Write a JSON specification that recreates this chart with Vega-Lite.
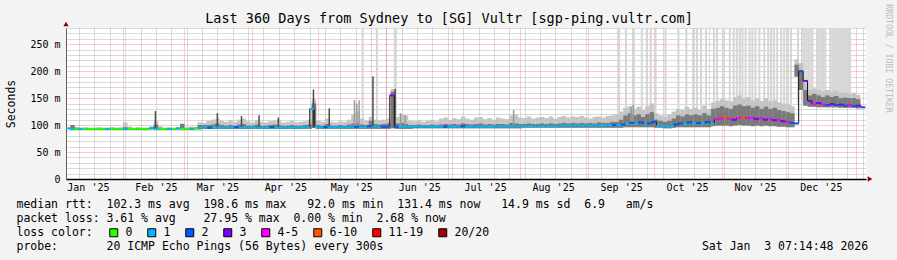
{
"$schema":"https://vega.github.io/schema/vega-lite/v6.json",
"width":800,"height":151,
"autosize":{"type":"none"},
"padding":{"left":66,"top":28,"right":31,"bottom":81},
"background":"#f3f3f3",
"config":{
 "view":{"fill":"#ffffff","stroke":null},
 "font":"DejaVu Sans Mono",
 "axis":{"labelFont":"DejaVu Sans Mono","labelFontSize":10,"labelColor":"#000000","titleFont":"DejaVu Sans Mono","titleFontWeight":"normal","titleColor":"#000000","tickSize":0,"ticks":false},
 "legend":{"padding":0}
},
"title":{"text":"Last 360 Days from Sydney to [SG] Vultr [sgp-ping.vultr.com]","font":"DejaVu Sans Mono","fontSize":13.5,"fontWeight":"normal","color":"#000000","anchor":"middle","frame":"group","dx":-17,"dy":37,"offset":4,"baseline":"alphabetic"},
"datasets":{
"main":[
{"d":"2025-01-09","m":94,"lo":92,"h2":100,"hi":100,"l":"1"},
{"d":"2025-01-11","m":93,"lo":92,"h2":95,"hi":96,"l":"1"},
{"d":"2025-01-13","m":93,"lo":92,"h2":94,"hi":95,"l":"0"},
{"d":"2025-01-15","m":93,"lo":92,"h2":94,"hi":96,"l":"1"},
{"d":"2025-01-17","m":93,"lo":92,"h2":94,"hi":95,"l":"0"},
{"d":"2025-01-19","m":93,"lo":92,"h2":94,"hi":95,"l":"0"},
{"d":"2025-01-21","m":93,"lo":92,"h2":94,"hi":96,"l":"0"},
{"d":"2025-01-23","m":93,"lo":92,"h2":94,"hi":95,"l":"0"},
{"d":"2025-01-25","m":93,"lo":92,"h2":94,"hi":95,"l":"0"},
{"d":"2025-01-27","m":93,"lo":92,"h2":95,"hi":96,"l":"1"},
{"d":"2025-01-29","m":93,"lo":92,"h2":94,"hi":95,"l":"0"},
{"d":"2025-01-31","m":93,"lo":92,"h2":94,"hi":96,"l":"0"},
{"d":"2025-02-02","m":93,"lo":92,"h2":96,"hi":105,"l":"0"},
{"d":"2025-02-04","m":93,"lo":92,"h2":95,"hi":97,"l":"1"},
{"d":"2025-02-06","m":93,"lo":92,"h2":94,"hi":95,"l":"0"},
{"d":"2025-02-08","m":93,"lo":92,"h2":94,"hi":96,"l":"0"},
{"d":"2025-02-10","m":93,"lo":92,"h2":94,"hi":95,"l":"0"},
{"d":"2025-02-12","m":93,"lo":92,"h2":94,"hi":95,"l":"0"},
{"d":"2025-02-14","m":93,"lo":92,"h2":94,"hi":97,"l":"0"},
{"d":"2025-02-16","m":95,"lo":92,"h2":101,"hi":108,"l":"1"},
{"d":"2025-02-18","m":93,"lo":92,"h2":95,"hi":98,"l":"1"},
{"d":"2025-02-20","m":93,"lo":92,"h2":94,"hi":95,"l":"0"},
{"d":"2025-02-22","m":93,"lo":92,"h2":94,"hi":96,"l":"0"},
{"d":"2025-02-24","m":93,"lo":92,"h2":94,"hi":95,"l":"1"},
{"d":"2025-02-26","m":93,"lo":92,"h2":94,"hi":95,"l":"0"},
{"d":"2025-02-28","m":94,"lo":92,"h2":102,"hi":103,"l":"1"},
{"d":"2025-03-02","m":93,"lo":92,"h2":94,"hi":96,"l":"0"},
{"d":"2025-03-04","m":93,"lo":92,"h2":95,"hi":97,"l":"0"},
{"d":"2025-03-06","m":93,"lo":92,"h2":94,"hi":96,"l":"1"},
{"d":"2025-03-08","m":94,"lo":92,"h2":100,"hi":105,"l":"0"},
{"d":"2025-03-10","m":95,"lo":93,"h2":100,"hi":104,"l":"1"},
{"d":"2025-03-12","m":95,"lo":93,"h2":100,"hi":108,"l":"1"},
{"d":"2025-03-14","m":95,"lo":93,"h2":101,"hi":110,"l":"2"},
{"d":"2025-03-16","m":95,"lo":93,"h2":103,"hi":112,"l":"1"},
{"d":"2025-03-18","m":95,"lo":93,"h2":100,"hi":108,"l":"1"},
{"d":"2025-03-20","m":95,"lo":93,"h2":99,"hi":106,"l":"1"},
{"d":"2025-03-22","m":95,"lo":93,"h2":100,"hi":109,"l":"1"},
{"d":"2025-03-24","m":95,"lo":93,"h2":99,"hi":106,"l":"1"},
{"d":"2025-03-26","m":96,"lo":93,"h2":101,"hi":110,"l":"2"},
{"d":"2025-03-28","m":95,"lo":93,"h2":102,"hi":112,"l":"1"},
{"d":"2025-03-30","m":95,"lo":93,"h2":99,"hi":107,"l":"1"},
{"d":"2025-04-01","m":95,"lo":93,"h2":99,"hi":105,"l":"1"},
{"d":"2025-04-03","m":96,"lo":93,"h2":101,"hi":109,"l":"1"},
{"d":"2025-04-05","m":95,"lo":93,"h2":99,"hi":106,"l":"1"},
{"d":"2025-04-07","m":95,"lo":93,"h2":99,"hi":105,"l":"1"},
{"d":"2025-04-09","m":95,"lo":93,"h2":100,"hi":107,"l":"1"},
{"d":"2025-04-11","m":96,"lo":93,"h2":101,"hi":108,"l":"2"},
{"d":"2025-04-13","m":95,"lo":93,"h2":100,"hi":110,"l":"1"},
{"d":"2025-04-15","m":95,"lo":93,"h2":99,"hi":105,"l":"1"},
{"d":"2025-04-17","m":95,"lo":93,"h2":99,"hi":106,"l":"1"},
{"d":"2025-04-19","m":96,"lo":93,"h2":100,"hi":108,"l":"1"},
{"d":"2025-04-21","m":95,"lo":93,"h2":99,"hi":105,"l":"1"},
{"d":"2025-04-23","m":95,"lo":93,"h2":99,"hi":106,"l":"1"},
{"d":"2025-04-25","m":96,"lo":93,"h2":100,"hi":107,"l":"1"},
{"d":"2025-04-27","m":96,"lo":93,"h2":101,"hi":110,"l":"1"},
{"d":"2025-04-29","m":130,"lo":95,"h2":140,"hi":148,"l":"1"},
{"d":"2025-05-01","m":96,"lo":93,"h2":100,"hi":108,"l":"1"},
{"d":"2025-05-03","m":96,"lo":93,"h2":99,"hi":106,"l":"1"},
{"d":"2025-05-05","m":96,"lo":93,"h2":102,"hi":112,"l":"2"},
{"d":"2025-05-07","m":96,"lo":93,"h2":99,"hi":106,"l":"1"},
{"d":"2025-05-09","m":96,"lo":93,"h2":99,"hi":105,"l":"1"},
{"d":"2025-05-11","m":96,"lo":93,"h2":100,"hi":107,"l":"1"},
{"d":"2025-05-13","m":96,"lo":93,"h2":99,"hi":106,"l":"1"},
{"d":"2025-05-15","m":96,"lo":93,"h2":101,"hi":110,"l":"1"},
{"d":"2025-05-17","m":97,"lo":93,"h2":103,"hi":120,"l":"1"},
{"d":"2025-05-19","m":97,"lo":93,"h2":104,"hi":125,"l":"2"},
{"d":"2025-05-21","m":96,"lo":93,"h2":101,"hi":112,"l":"1"},
{"d":"2025-05-23","m":96,"lo":93,"h2":100,"hi":108,"l":"1"},
{"d":"2025-05-25","m":98,"lo":93,"h2":108,"hi":115,"l":"2"},
{"d":"2025-05-27","m":97,"lo":93,"h2":102,"hi":110,"l":"1"},
{"d":"2025-05-29","m":96,"lo":93,"h2":101,"hi":109,"l":"1"},
{"d":"2025-05-31","m":97,"lo":93,"h2":102,"hi":110,"l":"2"},
{"d":"2025-06-02","m":97,"lo":93,"h2":103,"hi":112,"l":"2"},
{"d":"2025-06-04","m":155,"lo":94,"h2":162,"hi":167,"l":"3"},
{"d":"2025-06-06","m":97,"lo":93,"h2":103,"hi":115,"l":"2"},
{"d":"2025-06-08","m":97,"lo":93,"h2":104,"hi":120,"l":"1"},
{"d":"2025-06-10","m":97,"lo":93,"h2":102,"hi":118,"l":"1"},
{"d":"2025-06-12","m":97,"lo":93,"h2":100,"hi":108,"l":"1"},
{"d":"2025-06-14","m":97,"lo":94,"h2":100,"hi":107,"l":"1"},
{"d":"2025-06-16","m":97,"lo":94,"h2":101,"hi":109,"l":"1"},
{"d":"2025-06-18","m":97,"lo":94,"h2":100,"hi":106,"l":"1"},
{"d":"2025-06-20","m":97,"lo":94,"h2":100,"hi":108,"l":"1"},
{"d":"2025-06-22","m":97,"lo":94,"h2":101,"hi":110,"l":"1"},
{"d":"2025-06-24","m":97,"lo":94,"h2":100,"hi":107,"l":"1"},
{"d":"2025-06-26","m":97,"lo":94,"h2":101,"hi":112,"l":"1"},
{"d":"2025-06-28","m":97,"lo":94,"h2":102,"hi":114,"l":"2"},
{"d":"2025-06-30","m":97,"lo":94,"h2":101,"hi":110,"l":"1"},
{"d":"2025-07-02","m":97,"lo":94,"h2":102,"hi":113,"l":"1"},
{"d":"2025-07-04","m":97,"lo":94,"h2":101,"hi":111,"l":"1"},
{"d":"2025-07-06","m":98,"lo":94,"h2":103,"hi":116,"l":"2"},
{"d":"2025-07-08","m":97,"lo":94,"h2":102,"hi":112,"l":"1"},
{"d":"2025-07-10","m":97,"lo":94,"h2":101,"hi":110,"l":"1"},
{"d":"2025-07-12","m":97,"lo":94,"h2":102,"hi":114,"l":"1"},
{"d":"2025-07-14","m":98,"lo":94,"h2":103,"hi":115,"l":"1"},
{"d":"2025-07-16","m":97,"lo":94,"h2":101,"hi":111,"l":"1"},
{"d":"2025-07-18","m":97,"lo":94,"h2":102,"hi":113,"l":"1"},
{"d":"2025-07-20","m":97,"lo":94,"h2":101,"hi":110,"l":"1"},
{"d":"2025-07-22","m":98,"lo":94,"h2":102,"hi":114,"l":"1"},
{"d":"2025-07-24","m":97,"lo":94,"h2":102,"hi":112,"l":"1"},
{"d":"2025-07-26","m":97,"lo":94,"h2":101,"hi":111,"l":"1"},
{"d":"2025-07-28","m":98,"lo":94,"h2":104,"hi":118,"l":"1"},
{"d":"2025-07-30","m":98,"lo":94,"h2":103,"hi":120,"l":"1"},
{"d":"2025-08-01","m":98,"lo":94,"h2":102,"hi":114,"l":"1"},
{"d":"2025-08-03","m":98,"lo":95,"h2":102,"hi":113,"l":"1"},
{"d":"2025-08-05","m":98,"lo":95,"h2":103,"hi":116,"l":"1"},
{"d":"2025-08-07","m":98,"lo":95,"h2":102,"hi":112,"l":"1"},
{"d":"2025-08-09","m":98,"lo":95,"h2":102,"hi":114,"l":"1"},
{"d":"2025-08-11","m":98,"lo":95,"h2":103,"hi":115,"l":"1"},
{"d":"2025-08-13","m":98,"lo":95,"h2":102,"hi":113,"l":"1"},
{"d":"2025-08-15","m":98,"lo":95,"h2":103,"hi":116,"l":"1"},
{"d":"2025-08-17","m":98,"lo":95,"h2":102,"hi":112,"l":"1"},
{"d":"2025-08-19","m":99,"lo":95,"h2":103,"hi":115,"l":"1"},
{"d":"2025-08-21","m":99,"lo":95,"h2":104,"hi":117,"l":"1"},
{"d":"2025-08-23","m":99,"lo":95,"h2":103,"hi":114,"l":"1"},
{"d":"2025-08-25","m":99,"lo":95,"h2":104,"hi":116,"l":"1"},
{"d":"2025-08-27","m":99,"lo":95,"h2":103,"hi":115,"l":"1"},
{"d":"2025-08-29","m":99,"lo":95,"h2":104,"hi":117,"l":"1"},
{"d":"2025-08-31","m":99,"lo":95,"h2":103,"hi":114,"l":"1"},
{"d":"2025-09-02","m":99,"lo":95,"h2":104,"hi":112,"l":"1"},
{"d":"2025-09-04","m":99,"lo":95,"h2":103,"hi":115,"l":"1"},
{"d":"2025-09-06","m":99,"lo":95,"h2":105,"hi":116,"l":"1"},
{"d":"2025-09-08","m":100,"lo":95,"h2":104,"hi":114,"l":"1"},
{"d":"2025-09-10","m":99,"lo":95,"h2":104,"hi":117,"l":"1"},
{"d":"2025-09-12","m":100,"lo":95,"h2":106,"hi":118,"l":"2"},
{"d":"2025-09-14","m":100,"lo":95,"h2":106,"hi":120,"l":"1"},
{"d":"2025-09-16","m":101,"lo":95,"h2":110,"hi":125,"l":"2"},
{"d":"2025-09-18","m":102,"lo":96,"h2":118,"hi":132,"l":"1"},
{"d":"2025-09-20","m":104,"lo":96,"h2":122,"hi":135,"l":"2"},
{"d":"2025-09-22","m":103,"lo":96,"h2":118,"hi":130,"l":"1"},
{"d":"2025-09-24","m":105,"lo":96,"h2":120,"hi":134,"l":"2"},
{"d":"2025-09-26","m":101,"lo":96,"h2":115,"hi":128,"l":"1"},
{"d":"2025-09-28","m":103,"lo":96,"h2":120,"hi":135,"l":"2"},
{"d":"2025-09-30","m":106,"lo":96,"h2":124,"hi":140,"l":"2"},
{"d":"2025-10-02","m":99,"lo":95,"h2":110,"hi":122,"l":"1"},
{"d":"2025-10-04","m":98,"lo":95,"h2":108,"hi":118,"l":"1"},
{"d":"2025-10-06","m":97,"lo":94,"h2":106,"hi":116,"l":"1"},
{"d":"2025-10-08","m":98,"lo":94,"h2":108,"hi":120,"l":"1"},
{"d":"2025-10-10","m":101,"lo":95,"h2":112,"hi":125,"l":"2"},
{"d":"2025-10-12","m":103,"lo":96,"h2":118,"hi":130,"l":"2"},
{"d":"2025-10-14","m":102,"lo":96,"h2":116,"hi":128,"l":"1"},
{"d":"2025-10-16","m":105,"lo":96,"h2":120,"hi":134,"l":"2"},
{"d":"2025-10-18","m":103,"lo":96,"h2":118,"hi":130,"l":"1"},
{"d":"2025-10-20","m":104,"lo":96,"h2":120,"hi":132,"l":"2"},
{"d":"2025-10-22","m":102,"lo":96,"h2":118,"hi":128,"l":"1"},
{"d":"2025-10-24","m":106,"lo":96,"h2":122,"hi":136,"l":"2"},
{"d":"2025-10-26","m":103,"lo":96,"h2":118,"hi":130,"l":"1"},
{"d":"2025-10-28","m":111,"lo":98,"h2":130,"hi":142,"l":"4-5"},
{"d":"2025-10-30","m":112,"lo":99,"h2":132,"hi":145,"l":"4-5"},
{"d":"2025-11-01","m":114,"lo":99,"h2":135,"hi":148,"l":"6-10"},
{"d":"2025-11-03","m":112,"lo":99,"h2":132,"hi":146,"l":"4-5"},
{"d":"2025-11-05","m":110,"lo":98,"h2":130,"hi":144,"l":"3"},
{"d":"2025-11-07","m":113,"lo":99,"h2":136,"hi":152,"l":"4-5"},
{"d":"2025-11-09","m":115,"lo":100,"h2":138,"hi":155,"l":"6-10"},
{"d":"2025-11-11","m":113,"lo":99,"h2":135,"hi":150,"l":"4-5"},
{"d":"2025-11-13","m":114,"lo":99,"h2":136,"hi":152,"l":"4-5"},
{"d":"2025-11-15","m":111,"lo":98,"h2":132,"hi":146,"l":"3"},
{"d":"2025-11-17","m":113,"lo":99,"h2":135,"hi":150,"l":"4-5"},
{"d":"2025-11-19","m":110,"lo":98,"h2":130,"hi":145,"l":"3"},
{"d":"2025-11-21","m":112,"lo":99,"h2":134,"hi":150,"l":"4-5"},
{"d":"2025-11-23","m":109,"lo":98,"h2":130,"hi":145,"l":"3"},
{"d":"2025-11-25","m":110,"lo":98,"h2":132,"hi":146,"l":"4-5"},
{"d":"2025-11-27","m":107,"lo":97,"h2":128,"hi":142,"l":"3"},
{"d":"2025-11-29","m":106,"lo":97,"h2":126,"hi":140,"l":"4-5"},
{"d":"2025-12-01","m":104,"lo":96,"h2":124,"hi":138,"l":"2"},
{"d":"2025-12-03","m":103,"lo":96,"h2":122,"hi":135,"l":"2"},
{"d":"2025-12-05","m":200,"lo":190,"h2":212,"hi":222,"l":"2"},
{"d":"2025-12-07","m":182,"lo":165,"h2":200,"hi":215,"l":"3"},
{"d":"2025-12-09","m":145,"lo":136,"h2":165,"hi":178,"l":"3"},
{"d":"2025-12-11","m":139,"lo":134,"h2":155,"hi":165,"l":"4-5"},
{"d":"2025-12-13","m":141,"lo":134,"h2":158,"hi":168,"l":"3"},
{"d":"2025-12-15","m":138,"lo":133,"h2":155,"hi":165,"l":"4-5"},
{"d":"2025-12-17","m":137,"lo":133,"h2":152,"hi":162,"l":"2"},
{"d":"2025-12-19","m":139,"lo":133,"h2":155,"hi":165,"l":"3"},
{"d":"2025-12-21","m":137,"lo":133,"h2":152,"hi":162,"l":"2"},
{"d":"2025-12-23","m":138,"lo":133,"h2":154,"hi":164,"l":"3"},
{"d":"2025-12-25","m":136,"lo":132,"h2":150,"hi":160,"l":"2"},
{"d":"2025-12-27","m":137,"lo":132,"h2":151,"hi":160,"l":"4-5"},
{"d":"2025-12-29","m":135,"lo":132,"h2":150,"hi":158,"l":"2"},
{"d":"2025-12-31","m":136,"lo":132,"h2":150,"hi":160,"l":"3"},
{"d":"2026-01-02","m":133,"lo":131,"h2":148,"hi":156,"l":"2"}
],
"spk":[
{"d":"2025-05-21T05:00Z","b":97,"t":280,"k":"light"},
{"d":"2025-05-27T17:00Z","b":97,"t":280,"k":"light"},
{"d":"2025-06-04T20:00Z","b":97,"t":280,"k":"light"},
{"d":"2025-06-05T08:00Z","b":97,"t":280,"k":"light"},
{"d":"2025-09-15T02:00Z","b":100,"t":280,"k":"light"},
{"d":"2025-09-18T05:00Z","b":100,"t":280,"k":"light"},
{"d":"2025-09-21T19:00Z","b":100,"t":280,"k":"light"},
{"d":"2025-09-25T10:00Z","b":100,"t":280,"k":"light"},
{"d":"2025-09-27T17:00Z","b":100,"t":280,"k":"light"},
{"d":"2025-09-29T12:00Z","b":100,"t":280,"k":"light"},
{"d":"2025-10-01T17:00Z","b":100,"t":280,"k":"light"},
{"d":"2025-10-06T05:00Z","b":100,"t":280,"k":"light"},
{"d":"2025-10-12T02:00Z","b":100,"t":280,"k":"light"},
{"d":"2025-10-15T17:00Z","b":100,"t":280,"k":"light"},
{"d":"2025-10-18T19:00Z","b":100,"t":280,"k":"light"},
{"d":"2025-10-20T14:00Z","b":100,"t":280,"k":"light"},
{"d":"2025-10-22T10:00Z","b":100,"t":280,"k":"light"},
{"d":"2025-10-24T17:00Z","b":100,"t":280,"k":"light"},
{"d":"2025-10-28T07:00Z","b":100,"t":280,"k":"light"},
{"d":"2025-10-29T17:00Z","b":100,"t":280,"k":"light"},
{"d":"2025-11-01T07:00Z","b":100,"t":280,"k":"light"},
{"d":"2025-11-04T12:00Z","b":100,"t":280,"k":"light"},
{"d":"2025-11-06T07:00Z","b":100,"t":280,"k":"light"},
{"d":"2025-11-07T17:00Z","b":100,"t":280,"k":"light"},
{"d":"2025-11-09T00:00Z","b":100,"t":280,"k":"light"},
{"d":"2025-11-10T07:00Z","b":100,"t":280,"k":"light"},
{"d":"2025-11-11T17:00Z","b":100,"t":280,"k":"light"},
{"d":"2025-11-13T12:00Z","b":100,"t":280,"k":"light"},
{"d":"2025-11-14T19:00Z","b":100,"t":280,"k":"light"},
{"d":"2025-11-16T05:00Z","b":100,"t":280,"k":"light"},
{"d":"2025-11-18T00:00Z","b":100,"t":280,"k":"light"},
{"d":"2025-11-20T05:00Z","b":100,"t":280,"k":"light"},
{"d":"2025-11-22T00:00Z","b":100,"t":280,"k":"light"},
{"d":"2025-11-23T10:00Z","b":100,"t":280,"k":"light"},
{"d":"2025-11-24T17:00Z","b":100,"t":280,"k":"light"},
{"d":"2025-11-26T02:00Z","b":100,"t":280,"k":"light"},
{"d":"2025-11-27T22:00Z","b":100,"t":280,"k":"light"},
{"d":"2025-11-29T07:00Z","b":100,"t":280,"k":"light"},
{"d":"2025-12-01T02:00Z","b":100,"t":280,"k":"light"},
{"d":"2025-12-02T10:00Z","b":100,"t":280,"k":"light"},
{"d":"2025-12-05T14:00Z","b":140,"t":280,"k":"light"},
{"d":"2025-12-07T17:00Z","b":140,"t":280,"k":"light"},
{"d":"2025-12-08T14:00Z","b":140,"t":280,"k":"light"},
{"d":"2025-12-09T12:00Z","b":140,"t":280,"k":"light"},
{"d":"2025-12-10T10:00Z","b":140,"t":280,"k":"light"},
{"d":"2025-12-11T07:00Z","b":140,"t":280,"k":"light"},
{"d":"2025-12-12T05:00Z","b":140,"t":280,"k":"light"},
{"d":"2025-12-14T10:00Z","b":140,"t":280,"k":"light"},
{"d":"2025-12-15T07:00Z","b":140,"t":280,"k":"light"},
{"d":"2025-12-16T05:00Z","b":140,"t":280,"k":"light"},
{"d":"2025-12-17T02:00Z","b":140,"t":280,"k":"light"},
{"d":"2025-12-18T00:00Z","b":140,"t":280,"k":"light"},
{"d":"2025-12-20T07:00Z","b":140,"t":280,"k":"light"},
{"d":"2025-12-21T05:00Z","b":140,"t":280,"k":"light"},
{"d":"2025-12-22T02:00Z","b":140,"t":280,"k":"light"},
{"d":"2025-12-23T00:00Z","b":140,"t":280,"k":"light"},
{"d":"2025-12-23T22:00Z","b":140,"t":280,"k":"light"},
{"d":"2025-12-24T19:00Z","b":140,"t":280,"k":"light"},
{"d":"2025-12-25T17:00Z","b":140,"t":280,"k":"light"},
{"d":"2025-12-26T14:00Z","b":140,"t":280,"k":"light"},
{"d":"2025-12-27T12:00Z","b":140,"t":280,"k":"light"},
{"d":"2025-12-28T10:00Z","b":140,"t":280,"k":"light"},
{"d":"2025-12-29T07:00Z","b":140,"t":280,"k":"light"},
{"d":"2025-05-17T12:00Z","b":95,"t":146,"k":"mid"},
{"d":"2025-05-18T12:00Z","b":95,"t":140,"k":"mid"},
{"d":"2025-05-19T14:00Z","b":95,"t":146,"k":"mid"},
{"d":"2025-06-07T12:00Z","b":95,"t":122,"k":"mid"},
{"d":"2025-06-09T12:00Z","b":95,"t":118,"k":"mid"},
{"d":"2025-07-29T00:00Z","b":97,"t":128,"k":"mid"},
{"d":"2025-09-20T12:00Z","b":100,"t":134,"k":"mid"},
{"d":"2025-09-21T12:00Z","b":100,"t":137,"k":"mid"},
{"d":"2025-02-15T19:00Z","b":93,"t":126,"k":"dark"},
{"d":"2025-03-16T00:00Z","b":95,"t":122,"k":"dark"},
{"d":"2025-03-27T00:00Z","b":95,"t":117,"k":"dark"},
{"d":"2025-04-04T00:00Z","b":95,"t":118,"k":"dark"},
{"d":"2025-04-12T19:00Z","b":95,"t":114,"k":"dark"},
{"d":"2025-04-28T19:00Z","b":95,"t":166,"k":"dark"},
{"d":"2025-05-06T00:00Z","b":95,"t":131,"k":"dark"},
{"d":"2025-05-25T22:00Z","b":95,"t":190,"k":"dark"},
{"d":"2025-06-05T00:00Z","b":95,"t":167,"k":"dark"}
],
"arrows":[
{"d":"2026-01-03T07:14:48Z","v":0,"a":"x"},
{"d":"2025-01-08T07:14:48Z","v":280,"a":"y"}
]
},
"layer":[
{"data":{"name":"spk"},"transform":[{"filter":"datum.k == 'light'"}],
 "mark":{"type":"bar","size":2,"color":"#d6d6d6","clip":true},
 "encoding":{
  "x":{"field":"d","type":"temporal","scale":{"type":"utc","nice":false,"domain":[{"year":2025,"month":1,"date":8,"hours":7,"minutes":14,"seconds":48,"utc":true},{"year":2026,"month":1,"date":3,"hours":7,"minutes":14,"seconds":48,"utc":true}]},
   "axis":{"orient":"bottom","grid":true,"gridColor":"#b4b4b4","gridDash":[1,1],"tickCount":{"interval":"week","step":1},"labels":false,"ticks":false,"domain":false,"title":null}},
  "y":{"field":"b","type":"quantitative","scale":{"domain":[0,280],"nice":false,"zero":false},
   "axis":{"orient":"left","grid":true,"gridColor":"#b4b4b4","gridDash":[1,1],"values":[10,20,30,40,60,70,80,90,110,120,130,140,160,170,180,190,210,220,230,240,260,270,280],"labels":false,"ticks":false,"domain":false,"title":null}},
  "y2":{"field":"t"}}},
{"data":{"name":"main"},
 "mark":{"type":"bar","size":4.5,"color":"#c4c4c4","clip":true},
 "encoding":{
  "x":{"field":"d","type":"temporal","scale":{"type":"utc","nice":false,"domain":[{"year":2025,"month":1,"date":8,"hours":7,"minutes":14,"seconds":48,"utc":true},{"year":2026,"month":1,"date":3,"hours":7,"minutes":14,"seconds":48,"utc":true}]},
   "axis":{"orient":"bottom","grid":true,"gridColor":"#ff0000","gridOpacity":0.4,"gridDash":[1,1],"tickCount":{"interval":"month","step":1},"labels":false,"ticks":false,"domain":false,"title":null}},
  "y":{"field":"lo","type":"quantitative","scale":{"domain":[0,280],"nice":false,"zero":false},
   "axis":{"orient":"left","grid":true,"gridColor":"#ff0000","gridOpacity":0.4,"gridDash":[1,1],"values":[0,50,100,150,200,250],"labelExpr":"datum.value == 0 ? '0' : datum.value + ' m'","labelPadding":6,"domain":true,"domainColor":"#606060","title":"Seconds","titleX":-52,"titleY":75.5,"titleAngle":270,"titleAlign":"center","titleBaseline":"alphabetic","titleFontSize":11.5}},
  "y2":{"field":"hi"}}},
{"data":{"name":"main"},
 "mark":{"type":"bar","size":4.5,"color":"#7a7a7a","clip":true},
 "encoding":{
  "x":{"field":"d","type":"temporal","scale":{"type":"utc","nice":false,"domain":[{"year":2025,"month":1,"date":8,"hours":7,"minutes":14,"seconds":48,"utc":true},{"year":2026,"month":1,"date":3,"hours":7,"minutes":14,"seconds":48,"utc":true}]},
   "axis":{"orient":"bottom","values":[{"year":2025,"month":1,"date":16,"utc":true},{"year":2025,"month":2,"date":16,"utc":true},{"year":2025,"month":3,"date":16,"utc":true},{"year":2025,"month":4,"date":16,"utc":true},{"year":2025,"month":5,"date":16,"utc":true},{"year":2025,"month":6,"date":16,"utc":true},{"year":2025,"month":7,"date":16,"utc":true},{"year":2025,"month":8,"date":16,"utc":true},{"year":2025,"month":9,"date":16,"utc":true},{"year":2025,"month":10,"date":16,"utc":true},{"year":2025,"month":11,"date":16,"utc":true},{"year":2025,"month":12,"date":16,"utc":true}],
    "format":"%b '%y","labelPadding":3,"grid":false,"domain":true,"domainColor":"#000000","domainWidth":1.5,"labelOverlap":false,"labelFlush":false,"labelBound":false,
    "title":["median rtt:\u00a0\u00a0102.3 ms avg\u00a0\u00a0198.6 ms max\u00a0\u00a0\u00a092.0 ms min\u00a0\u00a0131.4 ms now\u00a0\u00a0\u00a014.9 ms sd\u00a0\u00a06.9\u00a0\u00a0\u00a0am/s","packet loss: 3.61 % avg\u00a0\u00a0\u00a0\u00a027.95 % max\u00a0\u00a00.00 % min\u00a0\u00a02.68 % now","loss color:","probe:\u00a0\u00a0\u00a0\u00a0\u00a0\u00a0\u00a020 ICMP Echo Pings (56 Bytes) every 300s\u00a0\u00a0\u00a0\u00a0\u00a0\u00a0\u00a0\u00a0\u00a0\u00a0\u00a0\u00a0\u00a0\u00a0\u00a0\u00a0\u00a0\u00a0\u00a0\u00a0\u00a0\u00a0\u00a0\u00a0\u00a0\u00a0\u00a0\u00a0\u00a0\u00a0\u00a0\u00a0\u00a0\u00a0\u00a0\u00a0\u00a0\u00a0\u00a0\u00a0\u00a0\u00a0\u00a0\u00a0\u00a0\u00a0Sat Jan\u00a0\u00a03 07:14:48 2026"],
    "titleX":-50,"titleY":28.7,"titleAlign":"left","titleAnchor":"start","titleBaseline":"alphabetic","titleAngle":0,"titleLineHeight":14,"titleFontSize":11.5}},
  "y":{"field":"lo","type":"quantitative","scale":{"domain":[0,280],"nice":false,"zero":false},
   "axis":{"orient":"right","labels":false,"ticks":false,"domain":false,"grid":false,"title":"RRDTOOL / TOBI OETIKER","titleAngle":90,"titleX":19.5,"titleY":30,"titleAlign":"center","titleBaseline":"alphabetic","titleColor":"#bdbdbd","titleFontSize":8.2}},
  "y2":{"field":"h2"}}},
{"data":{"name":"spk"},"transform":[{"filter":"datum.k == 'mid'"}],
 "mark":{"type":"bar","size":1.5,"color":"#9a9a9a","clip":true},
 "encoding":{
  "x":{"field":"d","type":"temporal","scale":{"type":"utc","nice":false,"domain":[{"year":2025,"month":1,"date":8,"hours":7,"minutes":14,"seconds":48,"utc":true},{"year":2026,"month":1,"date":3,"hours":7,"minutes":14,"seconds":48,"utc":true}]},"axis":null},
  "y":{"field":"b","type":"quantitative","scale":{"domain":[0,280],"nice":false,"zero":false},"axis":null},
  "y2":{"field":"t"}}},
{"data":{"name":"spk"},"transform":[{"filter":"datum.k == 'dark'"}],
 "mark":{"type":"bar","size":1.5,"color":"#4a4a4a","clip":true},
 "encoding":{
  "x":{"field":"d","type":"temporal","scale":{"type":"utc","nice":false,"domain":[{"year":2025,"month":1,"date":8,"hours":7,"minutes":14,"seconds":48,"utc":true},{"year":2026,"month":1,"date":3,"hours":7,"minutes":14,"seconds":48,"utc":true}]},"axis":null},
  "y":{"field":"b","type":"quantitative","scale":{"domain":[0,280],"nice":false,"zero":false},"axis":null},
  "y2":{"field":"t"}}},
{"data":{"name":"main"},
 "mark":{"type":"line","interpolate":"step","color":"#111111","strokeWidth":1,"clip":true},
 "encoding":{
  "x":{"field":"d","type":"temporal","scale":{"type":"utc","nice":false,"domain":[{"year":2025,"month":1,"date":8,"hours":7,"minutes":14,"seconds":48,"utc":true},{"year":2026,"month":1,"date":3,"hours":7,"minutes":14,"seconds":48,"utc":true}]},"axis":null},
  "y":{"field":"m","type":"quantitative","scale":{"domain":[0,280],"nice":false,"zero":false},"axis":null}}},
{"data":{"name":"main"},
 "mark":{"type":"tick","orient":"horizontal","size":4.5,"thickness":2,"opacity":1,"clip":true},
 "encoding":{
  "x":{"field":"d","type":"temporal","scale":{"type":"utc","nice":false,"domain":[{"year":2025,"month":1,"date":8,"hours":7,"minutes":14,"seconds":48,"utc":true},{"year":2026,"month":1,"date":3,"hours":7,"minutes":14,"seconds":48,"utc":true}]},"axis":null},
  "y":{"field":"m","type":"quantitative","scale":{"domain":[0,280],"nice":false,"zero":false},"axis":null},
  "color":{"field":"l","type":"nominal","scale":{"domain":["0","1","2","3","4-5","6-10","11-19","20/20"],"range":["#26ff00","#00b8ff","#0059ff","#7e00ff","#ff00ff","#ff5500","#ff0000","#a10000"]},
   "legend":{"title":null,"orient":"none","legendX":42,"legendY":199,"direction":"horizontal","labelFont":"DejaVu Sans Mono","labelFontSize":11.5,"labelColor":"#000000","labelOffset":6,"columnPadding":12,"symbolType":"square","symbolSize":64,"symbolOpacity":1,"symbolStrokeWidth":1,"symbolStrokeColor":"#000000","gridAlign":"none",
    "encode":{"symbols":{"update":{"stroke":{"value":"#000000"},"strokeWidth":{"value":1},"shape":{"value":"square"},"size":{"value":64},"opacity":{"value":1}}}}}}}},
{"data":{"name":"arrows"},"transform":[{"filter":"datum.a == 'x'"}],
 "mark":{"type":"point","shape":"triangle-right","filled":true,"color":"#8b0000","opacity":1,"size":28,"xOffset":4},
 "encoding":{
  "x":{"field":"d","type":"temporal","scale":{"type":"utc","nice":false,"domain":[{"year":2025,"month":1,"date":8,"hours":7,"minutes":14,"seconds":48,"utc":true},{"year":2026,"month":1,"date":3,"hours":7,"minutes":14,"seconds":48,"utc":true}]},"axis":null},
  "y":{"field":"v","type":"quantitative","scale":{"domain":[0,280],"nice":false,"zero":false},"axis":null}}},
{"data":{"name":"arrows"},"transform":[{"filter":"datum.a == 'y'"}],
 "mark":{"type":"point","shape":"triangle-up","filled":true,"color":"#8b0000","opacity":1,"size":28,"yOffset":-4},
 "encoding":{
  "x":{"field":"d","type":"temporal","scale":{"type":"utc","nice":false,"domain":[{"year":2025,"month":1,"date":8,"hours":7,"minutes":14,"seconds":48,"utc":true},{"year":2026,"month":1,"date":3,"hours":7,"minutes":14,"seconds":48,"utc":true}]},"axis":null},
  "y":{"field":"v","type":"quantitative","scale":{"domain":[0,280],"nice":false,"zero":false},"axis":null}}}
],
"resolve":{"scale":{"x":"independent","y":"independent"}}
}
